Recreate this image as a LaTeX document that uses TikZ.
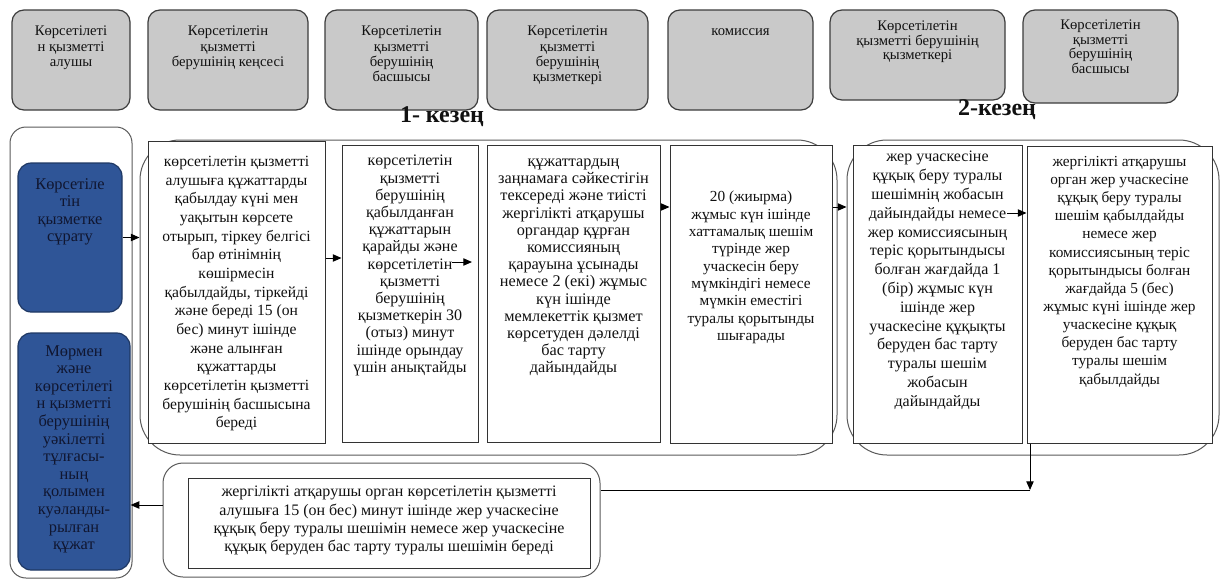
\documentclass[tikz,border=0pt]{standalone}
\usepackage{fontspec}
\setmainfont{Liberation Serif}
\usetikzlibrary{arrows.meta,fit,calc}
\definecolor{hdrfill}{HTML}{C9C9C9}
\definecolor{hdrline}{HTML}{3C3C3C}
\definecolor{bluefill}{HTML}{2F5597}
\definecolor{blueline}{HTML}{1F3864}
\definecolor{bluetext}{HTML}{101630}
\definecolor{lanegray}{HTML}{5A5A5A}
\definecolor{ink}{HTML}{111111}
\newcommand\fsz[2]{\fontsize{#1}{#2}\selectfont}
\begin{document}
\begin{tikzpicture}[x=0.75pt,y=-0.75pt,
  hdr/.style={draw=hdrline, fill=hdrfill, rounded corners=9pt, line width=0.9pt, inner sep=0pt},
  htxt/.style={inner sep=0pt, align=center, anchor=north, text=ink, font=\fsz{11}{11.3}},
  bluebox/.style={draw=blueline, fill=bluefill, rounded corners=10pt, line width=0.9pt, inner sep=0pt},
  btxt/.style={inner sep=0pt, align=center, anchor=north, text=bluetext},
  stepbox/.style={draw=black!80, fill=white, line width=0.75pt, inner sep=0pt},
  lane/.style={draw=lanegray, line width=0.75pt, inner sep=0pt},
  txt/.style={inner sep=0pt, align=center, anchor=north, text=ink},
  arr/.style={-{Triangle[length=6.5pt,width=5.5pt]}, line width=0.75pt, draw=black},
  plain/.style={line width=0.75pt, draw=black},
  title/.style={inner sep=0pt, text=ink, font=\bfseries\fsz{18}{18}}]
\useasboundingbox (0,0) rectangle (1221,579);
\fill[white] (0,0) rectangle (1221,579);

% header boxes
\node[hdr, fit={(12,10) (130,110)}] (h1) {};
\node[hdr, fit={(148,10) (308,110)}] (h2) {};
\node[hdr, fit={(325,10) (478,110)}] (h3) {};
\node[hdr, fit={(487,10) (648,110)}] (h4) {};
\node[hdr, fit={(668,10) (813,110)}] (h5) {};
\node[hdr, fit={(830,10) (1005,100)}] (h6) {};
\node[hdr, fit={(1023,10) (1178,103)}] (h7) {};
\node[htxt] (h1t) at (71,26) {Көрсетілеті\\н қызметті\\алушы};
\node[htxt] (h2t) at (228,26) {Көрсетілетін\\қызметті\\берушінің кеңсесі};
\node[htxt] (h3t) at (401.5,26) {Көрсетілетін\\қызметті\\берушінің\\басшысы};
\node[htxt] (h4t) at (567.5,26) {Көрсетілетін\\қызметті\\берушінің\\қызметкері};
\node[htxt] (h5t) at (740.5,28.5) {комиссия};
\node[htxt, font=\fsz{11}{10.6}] (h6t) at (917.5,21) {Көрсетілетін\\қызметті берушінің\\қызметкері};
\node[htxt, font=\fsz{11}{10.8}] (h7t) at (1100.5,20) {Көрсетілетін\\қызметті\\берушінің\\басшысы};

% titles
\node[title] (k1) at (442,117) {1- кезең};
\node[title] (k2) at (997,110) {2-кезең};

% lanes
\node[lane, rounded corners=12pt, fit={(10,127) (132,578)}] (lane0) {};
\node[lane, rounded corners=30pt, fit={(140,140) (837,455)}] (ph1) {};
\node[lane, rounded corners=30pt, fit={(847,140) (1219,455)}] (ph2) {};
\node[lane, rounded corners=15pt, fit={(163,463) (600,577)}] (bo) {};

% blue boxes
\node[bluebox, fit={(18,163) (122,312)}] (bl1) {};
\node[bluebox, fit={(18,333) (130,570)}] (bl2) {};
\node[btxt, font=\fsz{12.3}{13.2}] (bl1t) at (70,178) {Көрсетіле\\тін\\қызметке\\сұрату};
\node[btxt, font=\fsz{12.3}{13.2}] (bl2t) at (74,345) {Мөрмен\\және\\көрсетілеті\\н қызметті\\берушінің\\уәкілетті\\тұлғасы-\\ның\\қолымен\\куәланды-\\рылған\\құжат};

% step boxes
\node[stepbox, fit={(148,141) (325,443)}] (b1) {};
\node[stepbox, fit={(342,145) (478,442)}] (b2) {};
\node[stepbox, fit={(487,145) (660,442)}] (b3) {};
\node[stepbox, fit={(670,145) (832,443)}] (b4) {};
\node[stepbox, fit={(853,145) (1022,443)}] (b5) {};
\node[stepbox, fit={(1027,146) (1212,443)}] (b6) {};
\node[stepbox, fit={(188,478) (590,568)}] (bi) {};

\node[txt, font=\fsz{11.7}{14}] (t1) at (236.5,156) {көрсетілетін қызметті\\алушыға құжаттарды\\қабылдау күні мен\\уақытын көрсете\\отырып, тіркеу белгісі\\бар өтінімнің\\көшірмесін\\қабылдайды, тіркейді\\және береді 15 (он\\бес) минут ішінде\\және алынған\\құжаттарды\\көрсетілетін қызметті\\берушінің басшысына\\береді};
\node[txt, font=\fsz{12}{12.9}] (t2) at (410,155) {көрсетілетін\\қызметті\\берушінің\\қабылданған\\құжаттарын\\қарайды және\\көрсетілетін\\қызметті\\берушінің\\қызметкерін 30\\(отыз) минут\\ішінде орындау\\үшін анықтайды};
\node[txt, font=\fsz{12.2}{12.9}] (t3) at (573.5,158.5) {құжаттардың\\заңнамаға сәйкестігін\\тексереді және тиісті\\жергілікті атқарушы\\органдар құрған\\комиссияның\\қарауына ұсынады\\немесе 2 (екі) жұмыс\\күн ішінде\\мемлекеттік қызмет\\көрсетуден дәлелді\\бас тарту\\дайындайды};
\node[txt, font=\fsz{11.5}{13}] (t4) at (751,191) {20 (жиырма)\\жұмыс күн ішінде\\хаттамалық шешім\\түрінде жер\\учаскесін беру\\мүмкіндігі  немесе\\мүмкін еместігі\\туралы қорытынды\\шығарады};
\node[txt, font=\fsz{12}{14.1}] (t5) at (937.5,151) {жер учаскесіне\\құқық беру туралы\\шешімнің  жобасын\\дайындайды немесе\\жер комиссиясының\\теріс қорытындысы\\болған жағдайда 1\\(бір) жұмыс күн\\ішінде жер\\учаскесіне құқықты\\беруден бас тарту\\туралы шешім\\жобасын\\дайындайды};
\node[txt, font=\fsz{11.5}{13.6}] (t6) at (1119.5,156) {жергілікті  атқарушы\\орган жер учаскесіне\\құқық беру туралы\\шешім қабылдайды\\немесе жер\\комиссиясының теріс\\қорытындысы болған\\жағдайда 5 (бес)\\жұмыс күні ішінде  жер\\учаскесіне құқық\\беруден бас тарту\\туралы шешім\\қабылдайды};
\node[txt, font=\fsz{12}{13.7}] (t7) at (389,486) {жергілікті  атқарушы орган көрсетілетін қызметті\\алушыға 15 (он бес) минут  ішінде жер учаскесіне\\құқық беру туралы шешімін немесе жер учаскесіне\\құқық беруден бас тарту туралы шешімін береді};

% connectors
\coordinate (y12) at (0,258);
\coordinate (s23) at (452,262);
\coordinate (e23) at (472,262);
\coordinate (y34) at (0,207);
\coordinate (s56) at (1007,213);
\coordinate (d6) at (1030,490);
\coordinate (y7) at (0,505);
\draw[arr] (bl1.east) -- (bl1.east -| ph1.west);
\draw[arr] (b1.east |- y12) -- (b2.west |- y12);
\draw[arr] (s23) -- (e23);
\draw[arr] (b3.east |- y34) -- (b4.west |- y34);
\draw[arr] (b4.east |- y34) -- (ph2.west |- y34);
\draw[arr] (s56) -- (b6.west |- s56);
\draw[arr] (b6.south -| d6) -- (d6);
\draw[plain] (d6) -- (bo.east |- d6);
\draw[arr] (bo.west |- y7) -- (bl2.east |- y7);
\end{tikzpicture}
\end{document}
